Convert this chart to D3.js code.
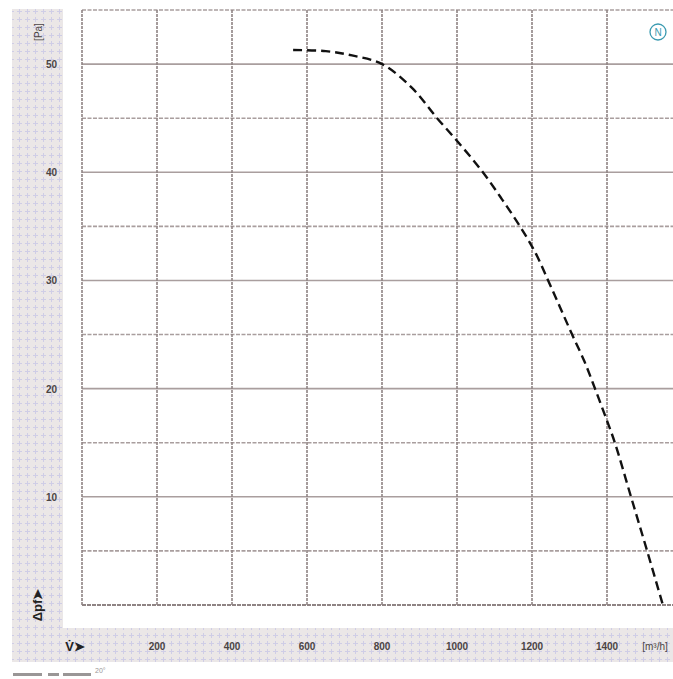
<!DOCTYPE html>
<html><head><meta charset="utf-8">
<script src="https://cdn.jsdelivr.net/npm/d3@7"></script>
<style>body{margin:0;background:#fff}svg{display:block}</style>
</head><body>
<script>
const flow = [563, 650, 720, 800, 880, 947, 1010, 1069, 1120, 1168, 1210, 1243, 1275, 1307, 1340, 1368, 1395, 1421, 1464, 1507, 1549];
const pressure = [51.3, 51.2, 50.8, 50.0, 47.8, 45.0, 42.5, 40.0, 37.5, 35.0, 32.5, 30.0, 27.5, 25.0, 22.5, 20.0, 17.5, 15.0, 10.0, 5.0, 0];
const xTicks = [200, 400, 600, 800, 1000, 1200, 1400];
const xGrid = [0, 200, 400, 600, 800, 1000, 1200, 1400];
const yTicks = [10, 20, 30, 40, 50];
const yGrid = [5, 10, 15, 20, 25, 30, 35, 40, 45, 50, 55];

const W = 673, H = 679;
const svg = d3.select("body").append("svg").attr("width", W).attr("height", H);
const defs = svg.append("defs");
const pat = defs.append("pattern").attr("id", "dots").attr("width", 8).attr("height", 8).attr("patternUnits", "userSpaceOnUse");
pat.append("rect").attr("width", 8).attr("height", 8).attr("fill", "#ebe7e7");
pat.append("rect").attr("x", 3).attr("y", 1).attr("width", 1).attr("height", 5).attr("fill", "#cfcde6");
pat.append("rect").attr("x", 1).attr("y", 3).attr("width", 5).attr("height", 1).attr("fill", "#cfcde6");

// bands
svg.append("rect").attr("x", 12).attr("y", 9).attr("width", 51).attr("height", 653).attr("fill", "url(#dots)");
svg.append("rect").attr("x", 12).attr("y", 628).attr("width", W - 12).attr("height", 34).attr("fill", "url(#dots)");

const x = d3.scaleLinear().domain([0, 1600]).range([82, 682]);
const y = d3.scaleLinear().domain([0, 55]).range([605, 10]);

const g = svg.append("g");
// grid
g.selectAll(".hg").data(yGrid).join("line")
  .attr("x1", x(0)).attr("x2", W).attr("y1", d => y(d)).attr("y2", d => y(d))
  .attr("stroke", "#a99e9e").attr("stroke-width", 1.6)
  .attr("stroke-dasharray", d => d % 10 === 0 ? null : "4,1.5");
g.selectAll(".vg").data(xGrid).join("line")
  .attr("x1", d => x(d)).attr("x2", d => x(d)).attr("y1", y(55)).attr("y2", y(0))
  .attr("stroke", "#8f8484").attr("stroke-width", 1.6).attr("stroke-dasharray", "3,1");
g.append("line").attr("x1", x(0)).attr("x2", W).attr("y1", y(0)).attr("y2", y(0))
  .attr("stroke", "#8f8484").attr("stroke-width", 1.8).attr("stroke-dasharray", "4,1");

// curve
const line = d3.line().x((d, i) => x(flow[i])).y(d => y(d)).curve(d3.curveCatmullRom);
svg.append("path").datum(pressure).attr("d", line).attr("fill", "none")
  .attr("stroke", "#111").attr("stroke-width", 2.4).attr("stroke-dasharray", "9,5");

const font = "Liberation Sans, Arial, sans-serif";
// y labels
svg.selectAll(".yl").data(yTicks).join("text")
  .attr("x", 57).attr("y", d => y(d) + 4).attr("text-anchor", "end")
  .attr("font-family", font).attr("font-size", 10).attr("font-weight", "bold").attr("fill", "#4a4444")
  .text(d => d);
svg.append("text").attr("transform", "translate(42,32) rotate(-90)").attr("text-anchor", "middle")
  .attr("font-family", font).attr("font-size", 10).attr("fill", "#4a4444").text("[Pa]");
// x labels
svg.selectAll(".xl").data(xTicks).join("text")
  .attr("x", d => x(d)).attr("y", 650).attr("text-anchor", "middle")
  .attr("font-family", font).attr("font-size", 10).attr("font-weight", "bold").attr("fill", "#4a4444")
  .text(d => d);
svg.append("text").attr("x", 655).attr("y", 650).attr("text-anchor", "middle")
  .attr("font-family", font).attr("font-size", 10).attr("fill", "#4a4444").text("[m³/h]");
svg.append("text").attr("x", 75).attr("y", 651).attr("text-anchor", "middle")
  .attr("font-family", font).attr("font-size", 13).attr("font-weight", "bold").attr("fill", "#222").text("V̇➤");
svg.append("text").attr("transform", "translate(42,605) rotate(-90)").attr("text-anchor", "middle")
  .attr("font-family", font).attr("font-size", 13).attr("font-weight", "bold").attr("fill", "#222").text("Δpf➤");

// N marker
svg.append("circle").attr("cx", 658).attr("cy", 32).attr("r", 8).attr("fill", "none").attr("stroke", "#3a9ab0").attr("stroke-width", 1.3);
svg.append("text").attr("x", 658).attr("y", 36).attr("text-anchor", "middle")
  .attr("font-family", font).attr("font-size", 10).attr("fill", "#3a9ab0").text("N");

// bottom legend
const legBars = [[13, 29], [48, 11], [63, 28]];
svg.selectAll(".lb").data(legBars).join("rect")
  .attr("x", d => d[0]).attr("y", 673).attr("width", d => d[1]).attr("height", 3).attr("fill", "#9a9696");
svg.append("text").attr("x", 95).attr("y", 673).attr("font-family", font).attr("font-size", 7).attr("fill", "#9a9696").text("20°");
</script>
</body></html>
